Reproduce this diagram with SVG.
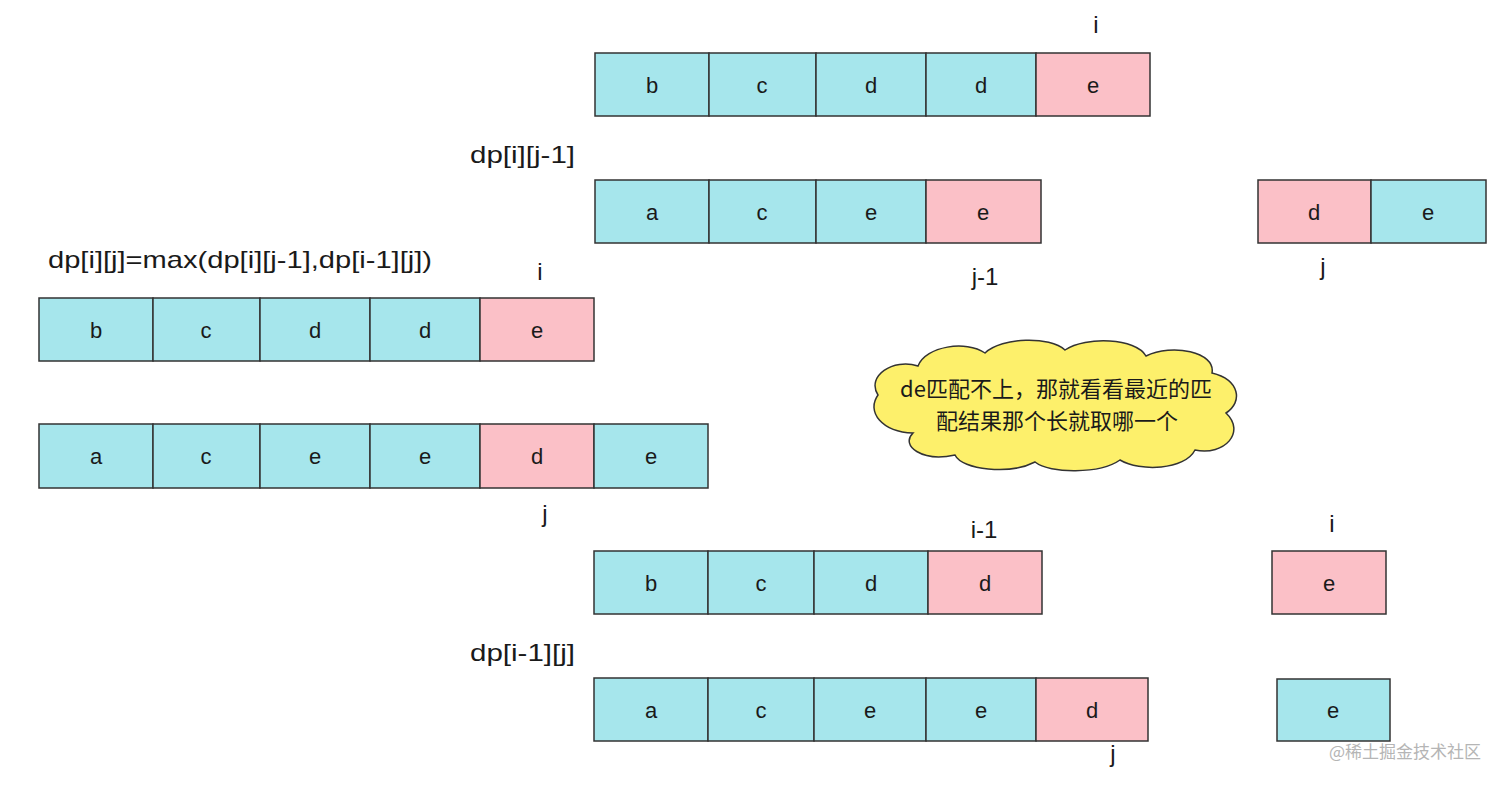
<svg xmlns="http://www.w3.org/2000/svg" width="1512" height="785" viewBox="0 0 1512 785">
<style>
.c{fill:#a6e6ec;stroke:#333;stroke-width:1.5}
.p{fill:#fbc0c7;stroke:#333;stroke-width:1.5}
.t{font-family:"Liberation Sans","Noto Sans CJK SC",sans-serif;font-size:22px;fill:#1a1a1a;text-anchor:middle;dominant-baseline:central}
.l{font-family:"Liberation Sans","Noto Sans CJK SC",sans-serif;font-size:24px;fill:#1a1a1a}
.m{text-anchor:middle}
.cl{font-family:"Noto Sans CJK SC","Liberation Sans",sans-serif;font-size:22px;fill:#1a1a1a;text-anchor:middle}
.wm{font-family:"Noto Sans CJK SC","Liberation Sans",sans-serif;font-size:17px;fill:#b5b5b5}
</style>
<rect width="1512" height="785" fill="#fff"/>
<g id="connectors"/>

<g id="rowA">
<rect class="c" x="595" y="53" width="114" height="63"/><text class="t" x="652" y="85">b</text>
<rect class="c" x="709" y="53" width="107" height="63"/><text class="t" x="762" y="85">c</text>
<rect class="c" x="816" y="53" width="110" height="63"/><text class="t" x="871" y="85">d</text>
<rect class="c" x="926" y="53" width="110" height="63"/><text class="t" x="981" y="85">d</text>
<rect class="p" x="1036" y="53" width="114" height="63"/><text class="t" x="1093" y="85">e</text>
<text class="l m" x="1096" y="33">i</text>
</g>

<g id="rowB">
<text class="l" x="470" y="163" textLength="105" lengthAdjust="spacingAndGlyphs">dp[i][j-1]</text>
<rect class="c" x="595" y="180" width="114" height="63"/><text class="t" x="652" y="212">a</text>
<rect class="c" x="709" y="180" width="107" height="63"/><text class="t" x="762" y="212">c</text>
<rect class="c" x="816" y="180" width="110" height="63"/><text class="t" x="871" y="212">e</text>
<rect class="p" x="926" y="180" width="115" height="63"/><text class="t" x="983" y="212">e</text>
<text class="l m" x="985" y="285">j-1</text>
</g>

<g id="pairB">
<rect class="p" x="1258" y="180" width="113" height="63"/><text class="t" x="1314" y="212">d</text>
<rect class="c" x="1371" y="180" width="115" height="63"/><text class="t" x="1428" y="212">e</text>
<text class="l m" x="1323" y="275">j</text>
</g>

<g id="formula">
<text class="l" x="48" y="268" textLength="384" lengthAdjust="spacingAndGlyphs">dp[i][j]=max(dp[i][j-1],dp[i-1][j])</text>
</g>

<g id="rowC">
<rect class="c" x="39" y="298" width="114" height="63"/><text class="t" x="96" y="330">b</text>
<rect class="c" x="153" y="298" width="107" height="63"/><text class="t" x="206" y="330">c</text>
<rect class="c" x="260" y="298" width="110" height="63"/><text class="t" x="315" y="330">d</text>
<rect class="c" x="370" y="298" width="110" height="63"/><text class="t" x="425" y="330">d</text>
<rect class="p" x="480" y="298" width="114" height="63"/><text class="t" x="537" y="330">e</text>
<text class="l m" x="540" y="280">i</text>
</g>

<g id="rowD">
<rect class="c" x="39" y="424" width="114" height="64"/><text class="t" x="96" y="456">a</text>
<rect class="c" x="153" y="424" width="107" height="64"/><text class="t" x="206" y="456">c</text>
<rect class="c" x="260" y="424" width="110" height="64"/><text class="t" x="315" y="456">e</text>
<rect class="c" x="370" y="424" width="110" height="64"/><text class="t" x="425" y="456">e</text>
<rect class="p" x="480" y="424" width="114" height="64"/><text class="t" x="537" y="456">d</text>
<rect class="c" x="594" y="424" width="114" height="64"/><text class="t" x="651" y="456">e</text>
<text class="l m" x="545" y="522">j</text>
</g>

<g id="cloud">
<path d="M 878,395 C 866,376 893,358 918,366 C 926,346 966,340 985,353 C 1002,337 1050,336 1065,350 C 1086,336 1136,338 1146,356 C 1172,343 1216,352 1212,373 C 1240,380 1243,402 1226,413 C 1246,432 1225,456 1195,450 C 1185,470 1140,472 1120,460 C 1100,474 1050,474 1035,462 C 1010,475 962,470 955,455 C 922,462 900,446 913,433 C 882,432 866,412 878,395 Z" fill="#fdf06b" stroke="#333" stroke-width="1.5"/>
<text class="cl" x="1056" y="397">de匹配不上，那就看看最近的匹</text>
<text class="cl" x="1057" y="429">配结果那个长就取哪一个</text>
</g>

<g id="rowE">
<rect class="c" x="594" y="551" width="114" height="63"/><text class="t" x="651" y="583">b</text>
<rect class="c" x="708" y="551" width="106" height="63"/><text class="t" x="761" y="583">c</text>
<rect class="c" x="814" y="551" width="114" height="63"/><text class="t" x="871" y="583">d</text>
<rect class="p" x="928" y="551" width="114" height="63"/><text class="t" x="985" y="583">d</text>
<text class="l m" x="984" y="538">i-1</text>
</g>

<g id="singleE">
<rect class="p" x="1272" y="551" width="114" height="63"/><text class="t" x="1329" y="583">e</text>
<text class="l m" x="1332" y="532">i</text>
</g>

<g id="rowF">
<text class="l" x="470" y="661" textLength="105" lengthAdjust="spacingAndGlyphs">dp[i-1][j]</text>
<rect class="c" x="594" y="678" width="114" height="63"/><text class="t" x="651" y="710">a</text>
<rect class="c" x="708" y="678" width="106" height="63"/><text class="t" x="761" y="710">c</text>
<rect class="c" x="814" y="678" width="112" height="63"/><text class="t" x="870" y="710">e</text>
<rect class="c" x="926" y="678" width="110" height="63"/><text class="t" x="981" y="710">e</text>
<rect class="p" x="1036" y="678" width="112" height="63"/><text class="t" x="1092" y="710">d</text>
<text class="l m" x="1113" y="762">j</text>
</g>

<g id="singleF">
<rect class="c" x="1277" y="679" width="113" height="62"/><text class="t" x="1333" y="710">e</text>
</g>

<text class="wm" x="1329" y="758">@稀土掘金技术社区</text>
</svg>
